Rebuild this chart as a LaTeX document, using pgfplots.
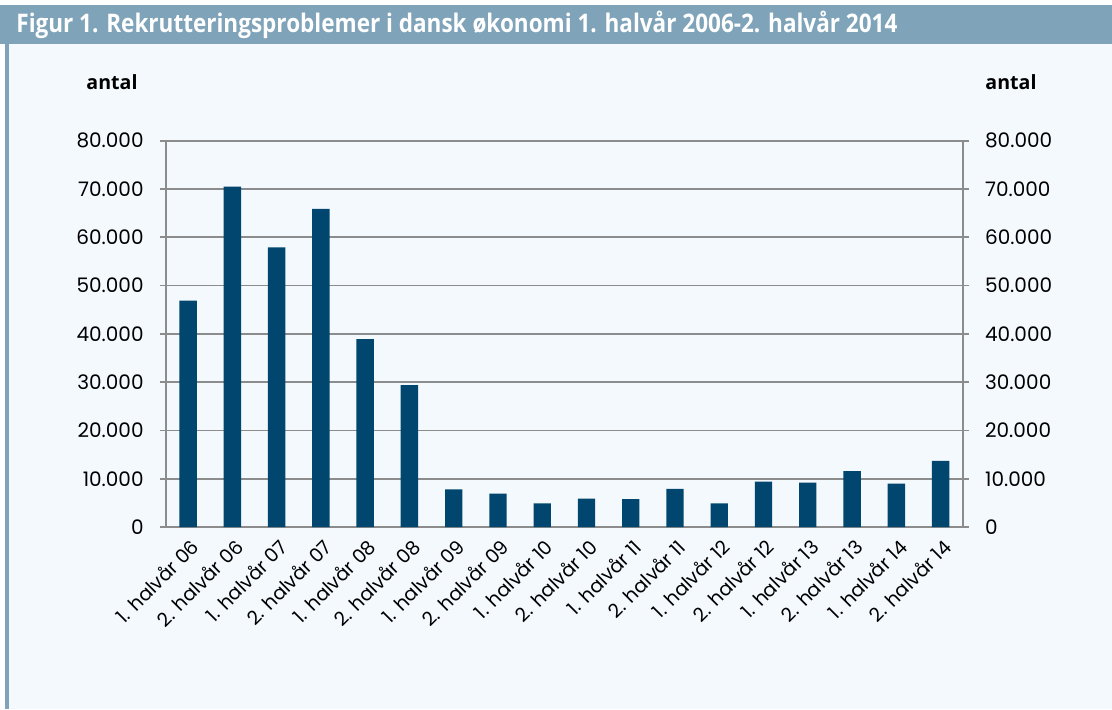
\documentclass[border=0pt]{standalone}
\usepackage{pgfplots}
\pgfplotsset{compat=1.18}
\usepackage{fontspec}
\setmainfont{Poppins}
\newfontfamily\titlefont[FakeStretch=0.88]{Open Sans}
\newfontfamily\unitfont{Open Sans}
\definecolor{bg}{HTML}{F4F9FD}
\definecolor{tbar}{HTML}{7FA3B8}
\definecolor{barc}{HTML}{00466E}
\definecolor{gridc}{HTML}{8C8C8C}
\pgfplotstableread{
x y
0 46900
1 70500
2 57900
3 65900
4 38900
5 29400
6 7800
7 6900
8 4900
9 5900
10 5800
11 7900
12 4900
13 9400
14 9200
15 11600
16 9000
17 13700
}\datatable
\begin{document}
\begin{tikzpicture}
\useasboundingbox (0,0) rectangle (556pt,-354.5pt);
\fill[white] (0,0) rectangle (556pt,-354.5pt);
\fill[bg] (4.5pt,-22pt) rectangle (556pt,-354.5pt);
\fill[tbar] (0,-2.5pt) rectangle (556pt,-22pt);
\fill[tbar] (2.5pt,-22pt) rectangle (4.5pt,-354.5pt);
\node[anchor=west, text=white, inner sep=0pt, font=\titlefont\bfseries\fontsize{12.8}{14}\selectfont] at (8pt,-12.5pt) {Figur 1. Rekrutteringsproblemer i dansk økonomi 1. halvår 2006-2. halvår 2014};
\node[font=\unitfont\bfseries\fontsize{9.8}{11}\selectfont] at (56pt,-41pt) {antal};
\node[font=\unitfont\bfseries\fontsize{9.8}{11}\selectfont] at (505.5pt,-41pt) {antal};
\begin{axis}[
  at={(83pt,-263.5pt)}, anchor=south west,
  scale only axis, width=398.35pt, height=193.15pt,
  xmin=-0.5, xmax=17.5, ymin=0, ymax=80000,
  ytick={0,10000,...,80000},
  /pgf/number format/use comma, /pgf/number format/1000 sep={.}, /pgf/number format/fixed,
  /pgf/number format/assume math mode=true,
  scaled y ticks=false,
  ymajorgrids, grid style={gridc, line width=0.9pt},
  axis line style={gridc, line width=0.9pt},
  axis y line*=left, axis x line*=bottom,
  tick align=outside,
  major tick length=3pt,
  tick style={gridc, line width=0.9pt},
  xtick={0,...,17},
  xticklabels={1. halvår 06,2. halvår 06,1. halvår 07,2. halvår 07,1. halvår 08,2. halvår 08,1. halvår 09,2. halvår 09,1. halvår 10,2. halvår 10,1. halvår 11,2. halvår 11,1. halvår 12,2. halvår 12,1. halvår 13,2. halvår 13,1. halvår 14,2. halvår 14},
  x tick style={draw=none},
  minor xtick={-0.5,0.5,...,17.5},
  minor tick length=3pt,
  minor x tick style={gridc, line width=0.9pt},
  xticklabel style={rotate=45, anchor=east, font=\fontsize{9.6}{11}\selectfont, inner sep=1pt, yshift=-6pt, xshift=0pt},
  yticklabel style={font=\fontsize{10}{12}\selectfont, inner sep=0pt, xshift=-8pt},
  clip=false,
]
\addplot[ybar, bar width=8.7pt, fill=barc, draw=none] table[x=x,y=y] {\datatable};
\end{axis}
\begin{axis}[
  at={(83pt,-263.5pt)}, anchor=south west,
  scale only axis, width=398.35pt, height=193.15pt,
  xmin=-0.5, xmax=17.5, ymin=0, ymax=80000,
  ytick={0,10000,...,80000},
  /pgf/number format/use comma, /pgf/number format/1000 sep={.}, /pgf/number format/fixed,
  /pgf/number format/assume math mode=true,
  scaled y ticks=false,
  axis y line*=right, axis x line=none,
  axis line style={gridc, line width=0.9pt},
  tick align=outside, major tick length=3pt,
  tick style={gridc, line width=0.9pt},
  yticklabel style={font=\fontsize{10}{12}\selectfont, inner sep=0pt, xshift=8pt},
]
\end{axis}
\end{tikzpicture}
\end{document}
